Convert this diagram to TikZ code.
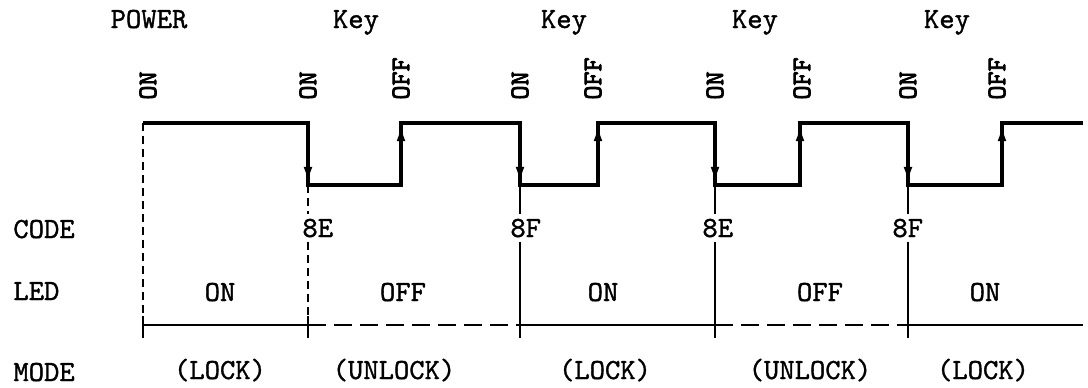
\documentclass[tikz,border=0pt]{standalone}
\usepackage{fontspec}
\newfontfamily\typetext{lmmono10-regular.otf}[FakeBold=1.2]
\newfontfamily\typeheavy{lmmono10-regular.otf}[FakeBold=3]
\usepackage{tikz}
\usetikzlibrary{arrows.meta, positioning, calc}

\begin{document}
\begin{tikzpicture}[
    x=0.5pt, y=-0.5pt,
    every node/.style={inner sep=0pt, font=\typetext\fontsize{14.6}{16}\selectfont},
    rowname/.style={anchor=base west},
    toptag/.style={anchor=base},
    edgetag/.style={rotate=90, anchor=west, font=\typeheavy\fontsize{13.4}{15}\selectfont},
    codetag/.style={anchor=base west, inner sep=2pt},
    statetag/.style={anchor=base},
    wave/.style={line width=1.6pt, line join=miter},
    wavearrow/.style={line width=1.6pt, shorten >=0.6pt, -{Latex[length=8.5pt, width=4.4pt]}},
    guide/.style={line width=0.8pt},
    guidedash/.style={guide, dash pattern=on 4pt off 2.5pt},
    ledline/.style={line width=1pt},
    ledgap/.style={ledline, dash pattern=on 9pt off 4pt},
    tickbar/.style={line width=1.3pt},
  ]
  \useasboundingbox (0,0) rectangle (1088,387);

  % levels and rows
  \coordinate (lo) at (0,185);
  \coordinate (led) at (0,325);
  \coordinate (tickt) at (0,316);
  \coordinate (tickb) at (0,338);

  % edges of the key signal (high level)
  \coordinate (pw) at (143,123);
  \coordinate (on1) at (308,123);
  \coordinate (off1) at (401,123);
  \coordinate (on2) at (520,123);
  \coordinate (off2) at (598,123);
  \coordinate (on3) at (715,123);
  \coordinate (off3) at (800,123);
  \coordinate (on4) at (908,123);
  \coordinate (off4) at (1002,123);
  \coordinate (sigend) at (1083,123);

  % row names
  \node[rowname] (code) at (13,238) {CODE};
  \node[rowname] (ledname) at (13,300) {LED};
  \node[rowname] (mode) at (13,381) {MODE};

  % events on top
  \node[toptag] (power) at (149,28) {POWER};
  \node[toptag] (key1) at (356,28) {Key};
  \node[toptag] (key2) at (564,28) {Key};
  \node[toptag] (key3) at (755,28) {Key};
  \node[toptag] (key4) at (947,28) {Key};

  \node[edgetag] (pwon) at (148,100) {ON};
  \node[edgetag] (k1on) at (308,100) {ON};
  \node[edgetag] (k1off) at (401,100) {OFF};
  \node[edgetag] (k2on) at (520,100) {ON};
  \node[edgetag] (k2off) at (593,100) {OFF};
  \node[edgetag] (k3on) at (715,100) {ON};
  \node[edgetag] (k3off) at (802,100) {OFF};
  \node[edgetag] (k4on) at (908,100) {ON};
  \node[edgetag] (k4off) at (997,100) {OFF};

  % key signal
  \draw[wave] (pw) -- (on1) -- (on1 |- lo) -- (off1 |- lo) -- (off1) -- (on2) -- (on2 |- lo) -- (off2 |- lo) -- (off2)
    -- (on3) -- (on3 |- lo) -- (off3 |- lo) -- (off3) -- (on4) -- (on4 |- lo) -- (off4 |- lo) -- (off4) -- (sigend);
  \draw[wavearrow] (on1) -- (on1 |- lo);
  \draw[wavearrow] (on2) -- (on2 |- lo);
  \draw[wavearrow] (on3) -- (on3 |- lo);
  \draw[wavearrow] (on4) -- (on4 |- lo);
  \draw[wavearrow] (off1 |- lo) -- (off1);
  \draw[wavearrow] (off2 |- lo) -- (off2);
  \draw[wavearrow] (off3 |- lo) -- (off3);
  \draw[wavearrow] (off4 |- lo) -- (off4);

  % codes sent
  \node[codetag] (c1) at (298,237) {8E};
  \node[codetag] (c2) at (506,237) {8F};
  \node[codetag] (c3) at (698,237) {8E};
  \node[codetag] (c4) at (888,237) {8F};

  \draw[guidedash] (pw) -- (pw |- tickb);
  \draw[guidedash] (on1 |- lo) -- (on1 |- c1.north);
  \draw[guidedash] (on1 |- c1.south) -- (on1 |- tickb);
  \draw[guide] (on2 |- lo) -- (on2 |- c2.north);
  \draw[guide] (on2 |- c2.south) -- (on2 |- tickb);
  \draw[guide] (on3 |- lo) -- (on3 |- c3.north);
  \draw[guide] (on3 |- c3.south) -- (on3 |- tickb);
  \draw[guide] (on4 |- lo) -- (on4 |- c4.north);
  \draw[guide] (on4 |- c4.south) -- (on4 |- tickb);

  % LED state
  \draw[ledline] (pw |- led) -- (on1 |- led);
  \draw[ledgap] (on1 |- led) -- (on2 |- led);
  \draw[ledline] (on2 |- led) -- (on3 |- led);
  \draw[ledgap] (on3 |- led) -- (on4 |- led);
  \draw[ledline] (on4 |- led) -- (sigend |- led);
  \draw[tickbar] (pw |- tickt) -- (pw |- tickb);
  \draw[tickbar] (on1 |- tickt) -- (on1 |- tickb);

  \node[statetag] (led1) at (220,301) {ON};
  \node[statetag] (led2) at (403,301) {OFF};
  \node[statetag] (led3) at (603,301) {ON};
  \node[statetag] (led4) at (820,301) {OFF};
  \node[statetag] (led5) at (985,301) {ON};

  % lock mode
  \node[statetag] (m1) at (220,379) {(LOCK)};
  \node[statetag] (m2) at (394,379) {(UNLOCK)};
  \node[statetag] (m3) at (605,379) {(LOCK)};
  \node[statetag] (m4) at (810,379) {(UNLOCK)};
  \node[statetag] (m5) at (983,379) {(LOCK)};
\end{tikzpicture}
\end{document}
